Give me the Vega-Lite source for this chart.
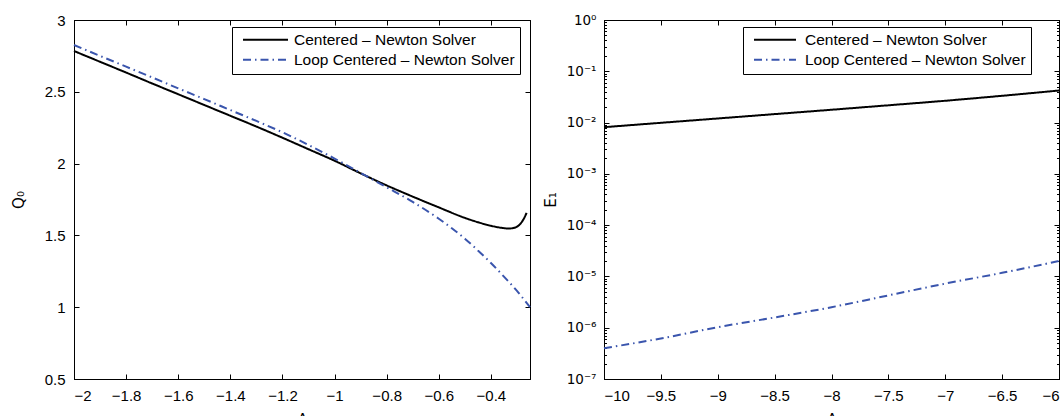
{
  "$schema": "https://vega.github.io/schema/vega-lite/v6.json",
  "padding": {"left": 10, "top": 12, "right": 0, "bottom": 0},
  "autosize": {"type": "pad"},
  "spacing": 7,
  "config": {
    "font": "Liberation Sans",
    "view": {"stroke": "black", "strokeWidth": 1},
    "axis": {
      "domainColor": "black", "tickColor": "black", "labelColor": "black", "titleColor": "black",
      "labelFontSize": 15, "titleFontSize": 16, "titleFontWeight": "normal", "grid": false,
      "tickSize": -5, "labelOverlap": false
    },
    "legend": {
      "title": null, "symbolType": "stroke", "symbolSize": 2025, "symbolStrokeWidth": 2,
      "labelFontSize": 15.5, "labelOffset": 5, "padding": 5, "symbolOffset": 5, "rowPadding": 3,
      "strokeColor": "black", "fillColor": "white", "labelLimit": 400, "clipHeight": 15.5, "labelColor": "black"
    }
  },
  "datasets": {
    "q0": [
      {"lambda": -2.0, "Q0": 2.784, "series": "Centered – Newton Solver"},
      {"lambda": -1.9, "Q0": 2.709, "series": "Centered – Newton Solver"},
      {"lambda": -1.8, "Q0": 2.634, "series": "Centered – Newton Solver"},
      {"lambda": -1.7, "Q0": 2.558, "series": "Centered – Newton Solver"},
      {"lambda": -1.6, "Q0": 2.483, "series": "Centered – Newton Solver"},
      {"lambda": -1.5, "Q0": 2.408, "series": "Centered – Newton Solver"},
      {"lambda": -1.4, "Q0": 2.333, "series": "Centered – Newton Solver"},
      {"lambda": -1.3, "Q0": 2.258, "series": "Centered – Newton Solver"},
      {"lambda": -1.2, "Q0": 2.18, "series": "Centered – Newton Solver"},
      {"lambda": -1.1, "Q0": 2.10, "series": "Centered – Newton Solver"},
      {"lambda": -1.0, "Q0": 2.02, "series": "Centered – Newton Solver"},
      {"lambda": -0.9, "Q0": 1.932, "series": "Centered – Newton Solver"},
      {"lambda": -0.8, "Q0": 1.848, "series": "Centered – Newton Solver"},
      {"lambda": -0.7, "Q0": 1.77, "series": "Centered – Newton Solver"},
      {"lambda": -0.6, "Q0": 1.695, "series": "Centered – Newton Solver"},
      {"lambda": -0.5, "Q0": 1.622, "series": "Centered – Newton Solver"},
      {"lambda": -0.45, "Q0": 1.592, "series": "Centered – Newton Solver"},
      {"lambda": -0.4, "Q0": 1.567, "series": "Centered – Newton Solver"},
      {"lambda": -0.36, "Q0": 1.553, "series": "Centered – Newton Solver"},
      {"lambda": -0.33, "Q0": 1.548, "series": "Centered – Newton Solver"},
      {"lambda": -0.31, "Q0": 1.553, "series": "Centered – Newton Solver"},
      {"lambda": -0.29, "Q0": 1.575, "series": "Centered – Newton Solver"},
      {"lambda": -0.275, "Q0": 1.612, "series": "Centered – Newton Solver"},
      {"lambda": -0.263, "Q0": 1.657, "series": "Centered – Newton Solver"},
      {"lambda": -2.0, "Q0": 2.826, "series": "Loop Centered – Newton Solver"},
      {"lambda": -1.9, "Q0": 2.75, "series": "Loop Centered – Newton Solver"},
      {"lambda": -1.8, "Q0": 2.675, "series": "Loop Centered – Newton Solver"},
      {"lambda": -1.7, "Q0": 2.60, "series": "Loop Centered – Newton Solver"},
      {"lambda": -1.6, "Q0": 2.524, "series": "Loop Centered – Newton Solver"},
      {"lambda": -1.5, "Q0": 2.449, "series": "Loop Centered – Newton Solver"},
      {"lambda": -1.4, "Q0": 2.373, "series": "Loop Centered – Newton Solver"},
      {"lambda": -1.3, "Q0": 2.297, "series": "Loop Centered – Newton Solver"},
      {"lambda": -1.2, "Q0": 2.218, "series": "Loop Centered – Newton Solver"},
      {"lambda": -1.1, "Q0": 2.13, "series": "Loop Centered – Newton Solver"},
      {"lambda": -1.0, "Q0": 2.035, "series": "Loop Centered – Newton Solver"},
      {"lambda": -0.9, "Q0": 1.935, "series": "Loop Centered – Newton Solver"},
      {"lambda": -0.8, "Q0": 1.835, "series": "Loop Centered – Newton Solver"},
      {"lambda": -0.7, "Q0": 1.733, "series": "Loop Centered – Newton Solver"},
      {"lambda": -0.6, "Q0": 1.616, "series": "Loop Centered – Newton Solver"},
      {"lambda": -0.55, "Q0": 1.55, "series": "Loop Centered – Newton Solver"},
      {"lambda": -0.5, "Q0": 1.477, "series": "Loop Centered – Newton Solver"},
      {"lambda": -0.45, "Q0": 1.395, "series": "Loop Centered – Newton Solver"},
      {"lambda": -0.4, "Q0": 1.308, "series": "Loop Centered – Newton Solver"},
      {"lambda": -0.35, "Q0": 1.213, "series": "Loop Centered – Newton Solver"},
      {"lambda": -0.3, "Q0": 1.113, "series": "Loop Centered – Newton Solver"},
      {"lambda": -0.25, "Q0": 1.0, "series": "Loop Centered – Newton Solver"}
    ],
    "e1": [
      {"lambda": -10.0, "E1": 0.00813, "series": "Centered – Newton Solver"},
      {"lambda": -9.5, "E1": 0.00989, "series": "Centered – Newton Solver"},
      {"lambda": -9.0, "E1": 0.01202, "series": "Centered – Newton Solver"},
      {"lambda": -8.5, "E1": 0.01462, "series": "Centered – Newton Solver"},
      {"lambda": -8.0, "E1": 0.01778, "series": "Centered – Newton Solver"},
      {"lambda": -7.5, "E1": 0.02173, "series": "Centered – Newton Solver"},
      {"lambda": -7.0, "E1": 0.02661, "series": "Centered – Newton Solver"},
      {"lambda": -6.5, "E1": 0.03327, "series": "Centered – Newton Solver"},
      {"lambda": -6.0, "E1": 0.04217, "series": "Centered – Newton Solver"},
      {"lambda": -10.0, "E1": 3.98e-7, "series": "Loop Centered – Newton Solver"},
      {"lambda": -9.5, "E1": 6.17e-7, "series": "Loop Centered – Newton Solver"},
      {"lambda": -9.0, "E1": 1.023e-6, "series": "Loop Centered – Newton Solver"},
      {"lambda": -8.5, "E1": 1.585e-6, "series": "Loop Centered – Newton Solver"},
      {"lambda": -8.0, "E1": 2.512e-6, "series": "Loop Centered – Newton Solver"},
      {"lambda": -7.5, "E1": 4.266e-6, "series": "Loop Centered – Newton Solver"},
      {"lambda": -7.0, "E1": 7.244e-6, "series": "Loop Centered – Newton Solver"},
      {"lambda": -6.5, "E1": 1.175e-5, "series": "Loop Centered – Newton Solver"},
      {"lambda": -6.0, "E1": 1.995e-5, "series": "Loop Centered – Newton Solver"}
    ]
  },
  "resolve": {
    "scale": {"color": "independent", "strokeDash": "independent"},
    "legend": {"color": "independent", "strokeDash": "independent"}
  },
  "hconcat": [
    {
      "width": 456, "height": 359,
      "data": {"name": "q0"},
      "resolve": {"axis": {"x": "independent", "y": "independent"}},
      "layer": [
        {
          "mark": {"type": "line", "strokeWidth": 2, "interpolate": "monotone"},
          "encoding": {
            "x": {"field": "lambda", "type": "quantitative",
              "scale": {"domain": [-2, -0.25], "nice": false, "zero": false},
              "axis": {"orient": "bottom", "values": [-2, -1.8, -1.6, -1.4, -1.2, -1, -0.8, -0.6, -0.4], "format": "~g", "title": "Λ", "labelPadding": 14, "titlePadding": 8}},
            "y": {"field": "Q0", "type": "quantitative",
              "scale": {"domain": [0.5, 3], "nice": false, "zero": false},
              "axis": {"orient": "left", "values": [0.5, 1, 1.5, 2, 2.5, 3], "format": "~g", "title": "Q₀",
                "titleFont": "DejaVu Sans", "titleFontSize": 15, "titleX": -51, "titleY": 179.5, "titleBaseline": "alphabetic", "titleAngle": -90, "titleAlign": "center",
                "labelPadding": 14}},
            "color": {"field": "series", "type": "nominal",
              "scale": {"domain": ["Centered – Newton Solver", "Loop Centered – Newton Solver"], "range": ["black", "#3a55ad"]},
              "legend": {"orient": "none", "legendX": 158, "legendY": 7}},
            "strokeDash": {"field": "series", "type": "nominal",
              "scale": {"domain": ["Centered – Newton Solver", "Loop Centered – Newton Solver"], "range": [[1, 0], [8, 4, 1.5, 4]]},
              "legend": {"orient": "none", "legendX": 158, "legendY": 7}}
          }
        },
        {
          "mark": {"type": "line", "opacity": 0},
          "encoding": {
            "x": {"field": "lambda", "type": "quantitative",
              "scale": {"domain": [-2, -0.25], "nice": false, "zero": false},
              "axis": {"orient": "top", "values": [-2, -1.8, -1.6, -1.4, -1.2, -1, -0.8, -0.6, -0.4], "labels": false, "title": null}},
            "y": {"field": "Q0", "type": "quantitative",
              "scale": {"domain": [0.5, 3], "nice": false, "zero": false},
              "axis": {"orient": "right", "values": [0.5, 1, 1.5, 2, 2.5, 3], "labels": false, "title": null}},
            "detail": {"field": "series"}
          }
        }
      ]
    },
    {
      "width": 455, "height": 359,
      "data": {"name": "e1"},
      "resolve": {"axis": {"x": "independent", "y": "independent"}},
      "layer": [
        {
          "mark": {"type": "line", "strokeWidth": 2, "interpolate": "monotone"},
          "encoding": {
            "x": {"field": "lambda", "type": "quantitative",
              "scale": {"domain": [-10, -6], "nice": false, "zero": false},
              "axis": {"orient": "bottom", "values": [-10, -9.5, -9, -8.5, -8, -7.5, -7, -6.5, -6], "format": "~g", "title": "Λ", "labelPadding": 14, "titlePadding": 8}},
            "y": {"field": "E1", "type": "quantitative",
              "scale": {"type": "log", "domain": [1e-7, 1], "nice": false},
              "axis": {"orient": "left", "title": "E₁", "labelPadding": 13, "labelFont": "DejaVu Sans", "labelFontSize": 13.5,
                "titleFont": "DejaVu Sans", "titleFontSize": 15, "titleX": -49, "titleY": 179.5, "titleBaseline": "alphabetic", "titleAngle": -90, "titleAlign": "center",
                "values": [1e-7, 2e-7, 3e-7, 4e-7, 5e-7, 6e-7, 7e-7, 8e-7, 9e-7, 1e-6, 2e-6, 3e-6, 4e-6, 5e-6, 6e-6, 7e-6, 8e-6, 9e-6, 1e-5, 2e-5, 3e-5, 4e-5, 5e-5, 6e-5, 7e-5, 8e-5, 9e-5, 1e-4, 2e-4, 3e-4, 4e-4, 5e-4, 6e-4, 7e-4, 8e-4, 9e-4, 0.001, 0.002, 0.003, 0.004, 0.005, 0.006, 0.007, 0.008, 0.009, 0.01, 0.02, 0.03, 0.04, 0.05, 0.06, 0.07, 0.08, 0.09, 0.1, 0.2, 0.3, 0.4, 0.5, 0.6, 0.7, 0.8, 0.9, 1],
                "labelExpr": "abs(log(datum.value)/LN10 - round(log(datum.value)/LN10)) < 0.01 ? (round(log(datum.value)/LN10) == 0 ? '10⁰' : '10⁻' + ['⁰','¹','²','³','⁴','⁵','⁶','⁷'][-round(log(datum.value)/LN10)]) : ''",
                "tickSize": {"condition": {"test": "abs(log(datum.value)/LN10 - round(log(datum.value)/LN10)) < 0.01", "value": -5}, "value": -2.5}}},
            "color": {"field": "series", "type": "nominal",
              "scale": {"domain": ["Centered – Newton Solver", "Loop Centered – Newton Solver"], "range": ["black", "#3a55ad"]},
              "legend": {"orient": "none", "legendX": 139, "legendY": 7, "labelOffset": 8, "symbolSize": 1764,
                "labelExpr": "datum.label == 'Loop Centered – Newton Solver' ? '\u00a0' + datum.label : datum.label"}},
            "strokeDash": {"field": "series", "type": "nominal",
              "scale": {"domain": ["Centered – Newton Solver", "Loop Centered – Newton Solver"], "range": [[1, 0], [8, 4, 1.5, 4]]},
              "legend": {"orient": "none", "legendX": 139, "legendY": 7, "labelOffset": 8, "symbolSize": 1764,
                "labelExpr": "datum.label == 'Loop Centered – Newton Solver' ? '\u00a0' + datum.label : datum.label"}}
          }
        },
        {
          "mark": {"type": "line", "opacity": 0},
          "encoding": {
            "x": {"field": "lambda", "type": "quantitative",
              "scale": {"domain": [-10, -6], "nice": false, "zero": false},
              "axis": {"orient": "top", "values": [-10, -9.5, -9, -8.5, -8, -7.5, -7, -6.5, -6], "labels": false, "title": null}},
            "y": {"field": "E1", "type": "quantitative",
              "scale": {"type": "log", "domain": [1e-7, 1], "nice": false},
              "axis": {"orient": "right", "labels": false, "title": null,
                "values": [1e-7, 2e-7, 3e-7, 4e-7, 5e-7, 6e-7, 7e-7, 8e-7, 9e-7, 1e-6, 2e-6, 3e-6, 4e-6, 5e-6, 6e-6, 7e-6, 8e-6, 9e-6, 1e-5, 2e-5, 3e-5, 4e-5, 5e-5, 6e-5, 7e-5, 8e-5, 9e-5, 1e-4, 2e-4, 3e-4, 4e-4, 5e-4, 6e-4, 7e-4, 8e-4, 9e-4, 0.001, 0.002, 0.003, 0.004, 0.005, 0.006, 0.007, 0.008, 0.009, 0.01, 0.02, 0.03, 0.04, 0.05, 0.06, 0.07, 0.08, 0.09, 0.1, 0.2, 0.3, 0.4, 0.5, 0.6, 0.7, 0.8, 0.9, 1],
                "tickSize": {"condition": {"test": "abs(log(datum.value)/LN10 - round(log(datum.value)/LN10)) < 0.01", "value": -5}, "value": -2.5}}},
            "detail": {"field": "series"}
          }
        }
      ]
    }
  ]
}
